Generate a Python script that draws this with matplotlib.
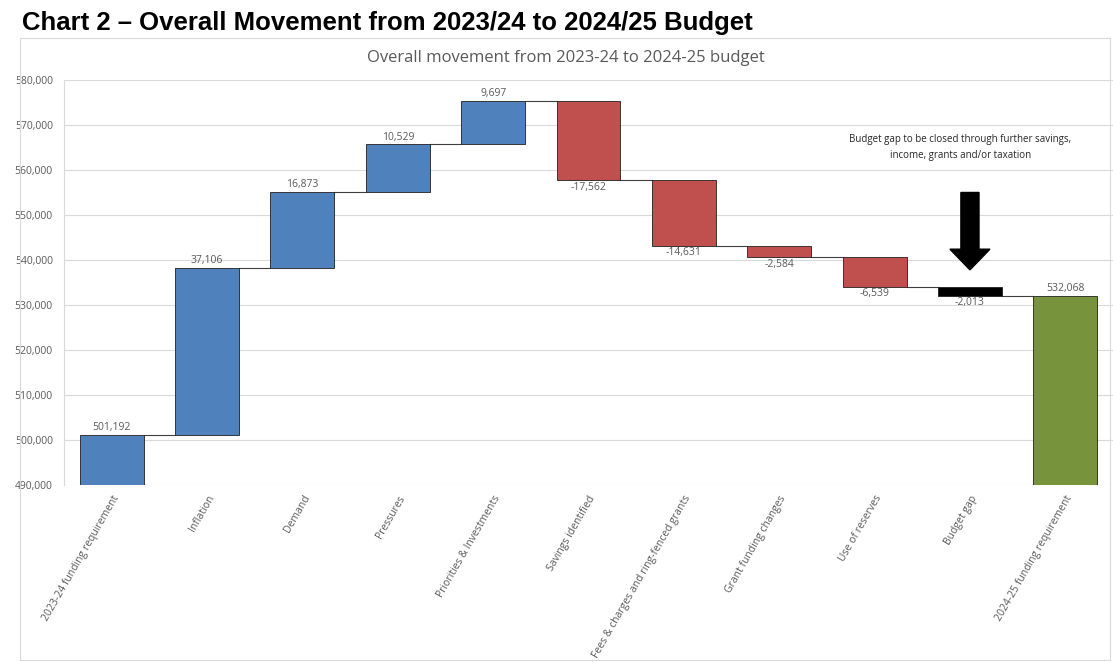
import numpy as np
import matplotlib
matplotlib.use("Agg")
import matplotlib.pyplot as plt
from matplotlib.patches import Rectangle, FancyArrow
from matplotlib.ticker import FuncFormatter

# ---- data ----
categories = [
    "2023-24 funding requirement", "Inflation", "Demand", "Pressures",
    "Priorities & Investments", "Savings identified",
    "Fees & charges and ring-fenced grants", "Grant funding changes",
    "Use of reserves", "Budget gap", "2024-25 funding requirement",
]
start_value = 501192
movements = [37106, 16873, 10529, 9697, -17562, -14631, -2584, -6539, -2013]
end_value = 532068
labels = ["501,192", "37,106", "16,873", "10,529", "9,697", "-17,562",
          "-14,631", "-2,584", "-6,539", "-2,013", "532,068"]

BLUE, RED, GREEN, GAP = "#4F81BD", "#C0504D", "#77933C", "#000000"
GREY_TXT = "#595959"
FONT = "Open Sans"

# ---- waterfall geometry ----
y_min = 490000
running = np.concatenate([[start_value], start_value + np.cumsum(movements)])
bottoms, heights, colors = [y_min], [start_value - y_min], [BLUE]
for i, m in enumerate(movements):
    prev = running[i]
    bottoms.append(min(prev, prev + m))
    heights.append(abs(m))
    if i == len(movements) - 1:
        colors.append(GAP)
    else:
        colors.append(BLUE if m > 0 else RED)
bottoms.append(y_min)
heights.append(end_value - y_min)
colors.append(GREEN)

x = np.arange(len(categories))
width = 0.67

fig = plt.figure(figsize=(11.13, 6.62), dpi=100)
fig.text(0.02, 0.966, "Chart 2 \u2013 Overall Movement from 2023/24 to 2024/25 Budget",
         fontsize=18.5, fontweight="bold", family="Liberation Sans", va="center")
fig.patches.append(Rectangle((0.018, 0.003), 0.979, 0.94, transform=fig.transFigure,
                             fill=False, edgecolor="#D9D9D9", lw=0.8))
fig.text(0.508, 0.912, "Overall movement from 2023-24 to 2024-25 budget",
         fontsize=12, color=GREY_TXT, family=FONT, ha="center", va="center")

ax = fig.add_axes([0.0575, 0.2674, 0.9425, 0.6118])
ax.bar(x, heights, width, bottom=bottoms, color=colors, edgecolor="#1F1F1F",
       linewidth=0.6, zorder=3)

# connector lines
for i in range(len(categories) - 1):
    level = running[i]
    ax.plot([x[i] + width / 2, x[i + 1] - width / 2], [level, level],
            color="#404040", lw=0.8, zorder=2)

# value labels
for i, lab in enumerate(labels):
    top = bottoms[i] + heights[i]
    if i in (0, len(categories) - 1) or movements[i - 1] > 0:
        ax.text(x[i], top + 400, lab, ha="center", va="bottom", fontsize=7.5,
                color=GREY_TXT, family=FONT)
    else:
        ax.text(x[i], bottoms[i] - 400, lab, ha="center", va="top", fontsize=7.5,
                color=GREY_TXT, family=FONT)

# budget gap arrow + note
ax.add_patch(FancyArrow(x[9], 555000, 0, -17200, width=0.19, head_width=0.42,
                        head_length=4600, length_includes_head=True,
                        color="black", zorder=4))
ax.text(x[9] - 0.1, 565000,
        "Budget gap to be closed through further savings,\nincome, grants and/or taxation",
        ha="center", va="center", fontsize=7, color="#262626", family=FONT,
        linespacing=1.6)

ax.set_xlim(-0.5, len(categories) - 0.5)
ax.set_ylim(y_min, 580000)
ax.set_yticks(np.arange(490000, 580001, 10000))
ax.yaxis.set_major_formatter(FuncFormatter(lambda v, p: f"{int(v):,}"))
ax.grid(axis="y", color="#D9D9D9", lw=0.8, zorder=0)
ax.set_axisbelow(True)
for s in ["top", "right", "bottom"]:
    ax.spines[s].set_visible(False)
ax.spines["left"].set_color("#D9D9D9")
ax.tick_params(axis="y", length=0, labelsize=7.5, labelcolor=GREY_TXT, pad=8)
ax.tick_params(axis="x", length=0, pad=6)
ax.set_xticks(x)
ax.set_xticklabels(categories, rotation=60, ha="right", rotation_mode="anchor",
                   fontsize=7.5, color=GREY_TXT, family=FONT)
for t in ax.get_yticklabels():
    t.set_family(FONT)

fig.savefig("out.png", dpi=100)
